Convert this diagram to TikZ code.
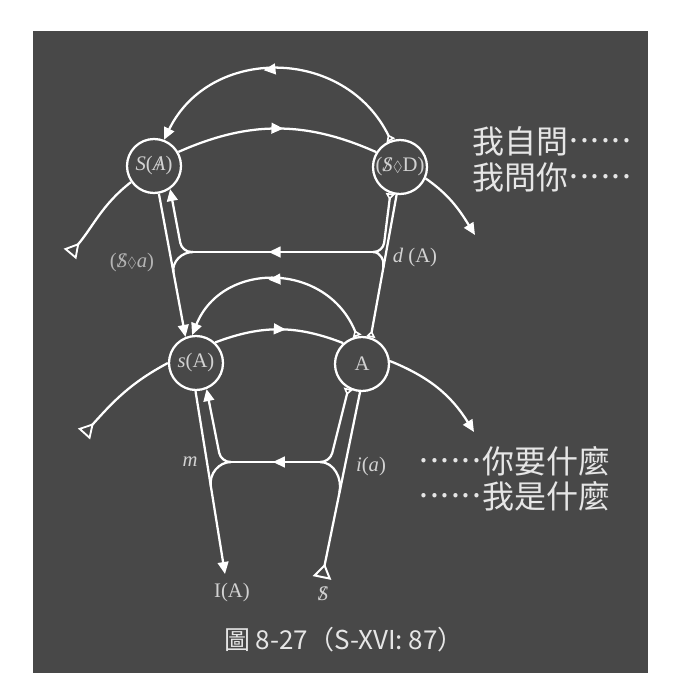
\documentclass[tikz,border=0pt]{standalone}
\usepackage{amssymb}
\usepackage{fontspec}
\setmainfont{Liberation Serif}
\newfontfamily\cjk{Noto Sans CJK TC}
\usetikzlibrary{arrows.meta}
\usetikzlibrary{decorations.markings}
\usetikzlibrary{calc}

\definecolor{bggray}{HTML}{484848}
\definecolor{labgray}{HTML}{D2D2D2}
\definecolor{dimgray}{HTML}{B4B4B4}
\definecolor{txtgray}{HTML}{E6E6E6}

\newcommand{\Sbarre}{\ooalign{\textit{S}\cr\hidewidth\textit{/}\hidewidth\cr}}
\newcommand{\Abarre}{\ooalign{\textit{A}\cr\hidewidth/\hidewidth\cr}}
\newcommand{\poinc}{\raisebox{0.1ex}{\fontsize{11}{12}\selectfont$\lozenge$}}
\newcommand{\sixdots}{\raisebox{0.32em}{\makebox[2em][s]{\hspace{0.04em}.\hfill.\hfill.\hfill.\hfill.\hfill.\hspace{0.04em}}}}

\tikzset{
  graphnode/.style={circle, draw=white, line width=1.7pt, minimum size=40.5pt, inner sep=0pt, text=labgray, font=\fontsize{15.5}{18}\selectfont},
  lab/.style={inner sep=0pt, text=labgray, font=\fontsize{15.5}{18}\selectfont},
  cjktext/.style={inner sep=0pt, anchor=west, text=txtgray, font=\cjk\fontsize{24}{28}\selectfont},
  vec/.style={draw=white, line width=1.7pt},
  toarrow/.style={-{Triangle[length=9pt,width=8pt]}},
  todelta/.style={-{Triangle[open,reversed,length=5pt,width=7pt,line width=1.2pt]}},
  deltaarrow/.style={{Triangle[open,reversed,length=5pt,width=7pt,line width=1.2pt]}-{Triangle[length=9pt,width=8pt]}},
  toexit/.style={-{Triangle[open,reversed,length=11pt,width=12pt,line width=1.4pt]}},
  tobottom/.style={-{Triangle[open,reversed,length=11pt,width=14pt,line width=1.5pt]}},
  midarrow/.style={postaction={decorate,decoration={markings,mark=at position #1 with {\arrow{Triangle[length=9pt,width=8pt]}}}}}
}

\begin{document}
\begin{tikzpicture}[x=0.75pt,y=0.75pt,yscale=-1,xscale=1]
\useasboundingbox (0,0) rectangle (685,692);
%Shape: Rectangle
\fill[bggray] (33,31) rectangle (648,673);

%Shape: Circle
\node [graphnode] (SA) at (154,166) {\textit{S}(\Abarre)};
%Shape: Circle
\node [graphnode] (SD) at (400,167) {(\Sbarre\poinc D)};
%Shape: Circle
\node [graphnode] (sA) at (196,363) {\textit{s}(A)};
%Shape: Circle
\node [graphnode] (A) at (362,364) {A};

\coordinate (cTL) at (182,252);
\coordinate (hTL) at (193,252);
\coordinate (hTR) at (373,252);
\coordinate (cTR) at (383,252);
\coordinate (cBL) at (221,462);
\coordinate (hBL) at (231,462);
\coordinate (hBR) at (320,462);
\coordinate (cBR) at (330,462);
\coordinate (IAend) at (225,574);
\coordinate (Send) at (322,578);
\coordinate (eTL) at (70,254);
\coordinate (eTR) at (475,235);
\coordinate (eBL) at (84,434);
\coordinate (eBR) at (474,432);
\coordinate (mTL) at ($(SA.280)!0.55!(sA.112)$);
\coordinate (mTR) at ($(SD.263)!0.51!(A.72)$);
\coordinate (mBL) at ($(sA.269)!0.52!(IAend)$);
\coordinate (mBR) at ($(A.266)!0.54!(Send)$);

%Upper level
\draw [vec, deltaarrow, midarrow=0.55] (SD.109) to[out=-116,in=-64,looseness=1.18] (SA.69);
\draw [vec, midarrow=0.53] (SA.30) to[bend right=24] (SD.148);
\draw [vec, toexit] (SA.215) to[out=-218,in=-50] (eTL);
\draw [vec, toarrow] (SD.336) to[out=35,in=-122] (eTR);
\draw [vec, toarrow] (SA.280) -- (sA.112);
\draw [vec, todelta] (SD.263) -- (A.72);
\draw [vec, midarrow=0.58] (hTR) -- (hTL);
\draw [vec, toarrow, rounded corners=7pt] (hTL) -- (cTL) -- (SA.305);
\draw [vec, todelta, rounded corners=7pt] (hTR) -- (cTR) -- (SD.250);
\draw [vec] (hTL) to[out=180,in=-100] (mTL);
\draw [vec] (hTR) to[out=0,in=-80] (mTR);

%Lower level
\draw [vec, deltaarrow, midarrow=0.53] (A.100) to[out=-112,in=-68,looseness=1.25] (sA.98);
\draw [vec, midarrow=0.55] (sA.47) to[bend right=21] (A.132);
\draw [vec, toexit] (sA.180) to[out=-208,in=-48] (eBL);
\draw [vec, toarrow] (A.6) to[out=22,in=-122] (eBR);
\draw [vec, toarrow] (sA.269) -- (IAend);
\draw [vec, tobottom] (A.266) -- (Send);
\draw [vec, midarrow=0.53] (hBR) -- (hBL);
\draw [vec, toarrow, rounded corners=7pt] (hBL) -- (cBL) -- (sA.292);
\draw [vec, todelta, rounded corners=7pt] (hBR) -- (cBR) -- (A.241);
\draw [vec] (hBL) to[out=180,in=-99] (mBL);
\draw [vec] (hBR) to[out=0,in=-78] (mBR);

% Text Node
\node [lab] (dA) at (415,258) {\textit{d} (A)};
% Text Node
\node [lab, text=dimgray] (Sa) at (132,263) {(\Sbarre\poinc\textit{a})};
% Text Node
\node [lab] (mlab) at (190,462) {\textit{m}};
% Text Node
\node [lab] (ia) at (371,467) {\textit{i}(\textit{a})};
% Text Node
\node [lab] (IA) at (232,593) {I(A)};
% Text Node
\node [lab] (Slab) at (323,594) {\Sbarre};
% Text Node
\node [cjktext] (q1) at (472,141) {我自問\sixdots};
% Text Node
\node [cjktext] (q2) at (472,177) {我問你\sixdots};
% Text Node
\node [cjktext] (q3) at (418,461) {\sixdots 你要什麼};
% Text Node
\node [cjktext] (q4) at (418,496) {\sixdots 我是什麼};
% Text Node
\node [inner sep=0pt, text=txtgray, font=\cjk\fontsize{19.5}{22}\selectfont] (cap) at (344,640) {圖 8-27（S-XVI: 87）};

\end{tikzpicture}
\end{document}
